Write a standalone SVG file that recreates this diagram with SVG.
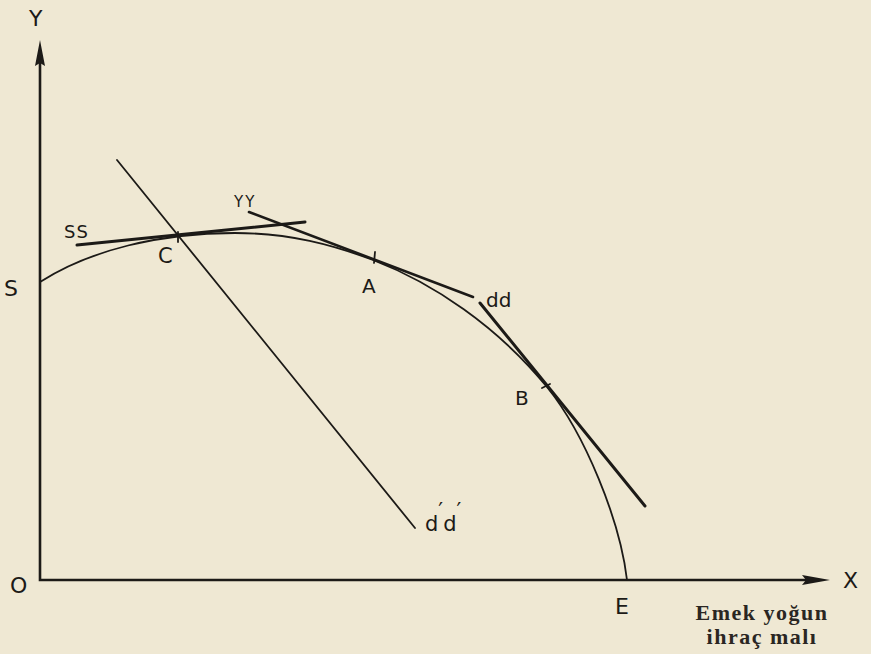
<svg xmlns="http://www.w3.org/2000/svg" width="871" height="654" viewBox="0 0 871 654">
<style>
.ln{fill:none;stroke:#1c1a17;stroke-linecap:round}
.lb{font-family:"DejaVu Sans","Liberation Sans",sans-serif;fill:#1c1a17}
.sf{font-family:"Liberation Serif","DejaVu Serif",serif;fill:#2a2622;font-weight:bold}
.ah{fill:#1c1a17}
</style>
<rect width="871" height="654" fill="#efe8d3"/>
<g id="axes">
<path class="ln" d="M40,62 V580 H806" stroke-width="2.6"/>
<path class="ah" d="M40,40 L45,66 L40,63 L35,66 Z"/>
<path class="ah" d="M830,580 L802,585 L806,580 L802,575 Z"/>
</g>
<g id="curve">
<path class="ln" stroke-width="1.8" d="M40,282 C90,250 160,233 235,233 C290,233 333,245 373,260 C433,283 497,326 547,387 C585,434 620,520 627,580"/>
</g>
<g id="connectors">
<line id="ss" class="ln" x1="77" y1="245" x2="305" y2="222" stroke-width="3"/>
<line id="yy" class="ln" x1="249" y1="212" x2="473" y2="297" stroke-width="2.6"/>
<line id="dd" class="ln" x1="480" y1="303" x2="645" y2="506" stroke-width="3"/>
<line id="dd2" class="ln" x1="117" y1="160" x2="415" y2="528" stroke-width="1.8"/>
<line class="ln" x1="375" y1="252" x2="374" y2="263" stroke-width="1.8"/>
<line class="ln" x1="178" y1="232" x2="178" y2="242" stroke-width="1.8"/>
<line class="ln" x1="542" y1="388" x2="550" y2="384" stroke-width="1.8"/>
</g>
<g id="labels">
<text class="lb" x="29" y="26" font-size="22">Y</text>
<text class="lb" x="843" y="588" font-size="22">X</text>
<text class="lb" x="10" y="593" font-size="22">O</text>
<text class="lb" x="615" y="614" font-size="22">E</text>
<text class="lb" x="4" y="296" font-size="22">S</text>
<text class="lb" x="64" y="238" font-size="18" letter-spacing="1">SS</text>
<text class="lb" x="234" y="207" font-size="15" letter-spacing="2">YY</text>
<text class="lb" x="158" y="263" font-size="21">C</text>
<text class="lb" x="362" y="293" font-size="20">A</text>
<text class="lb" x="486" y="307" font-size="20">dd</text>
<text class="lb" x="515" y="405" font-size="20">B</text>
<text class="lb" x="425" y="531" font-size="21">d<tspan dy="-13">′</tspan><tspan dy="13">d</tspan><tspan dy="-13">′</tspan></text>
<text class="sf" x="762" y="620" font-size="22" letter-spacing="1.5" text-anchor="middle">Emek yoğun</text>
<text class="sf" x="762" y="644" font-size="22" letter-spacing="1.5" text-anchor="middle">ihraç malı</text>
</g>
</svg>
